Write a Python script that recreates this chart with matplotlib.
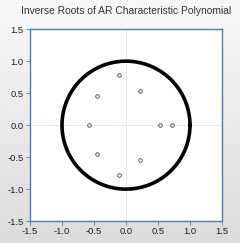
import matplotlib
matplotlib.use("Agg")
import matplotlib.pyplot as plt
import numpy as np

# inverse roots
root_re = [-0.11, -0.11, -0.46, -0.46, 0.22, 0.22, -0.58, 0.53, 0.72]
root_im = [0.78, -0.78, 0.45, -0.45, 0.54, -0.54, 0.0, 0.0, 0.0]
ticks = [-1.5, -1.0, -0.5, 0.0, 0.5, 1.0, 1.5]

plt.rcParams["font.family"] = ["Liberation Sans", "DejaVu Sans"]

fig = plt.figure(figsize=(2.4, 2.43), dpi=100)

# light gray gradient background
bg = fig.add_axes([0, 0, 1, 1], zorder=-10)
grad = np.linspace(0.97, 0.86, 256).reshape(-1, 1)
bg.imshow(grad, cmap="gray", vmin=0, vmax=1, aspect="auto", extent=[0, 1, 0, 1])
bg.axis("off")

ax = fig.add_axes([0.125, 0.09, 0.8, 0.79])
ax.set_facecolor("white")

t = np.linspace(0, 2 * np.pi, 400)
ax.plot(np.cos(t), np.sin(t), color="black", lw=2.6, zorder=3)
ax.plot(root_re, root_im, "o", ms=2.6, mfc="none", mec="#444444", mew=0.6, zorder=4)

ax.axhline(0, color="#cccccc", lw=0.6, ls=(0, (1, 1)), zorder=1)
ax.axvline(0, color="#cccccc", lw=0.6, ls=(0, (1, 1)), zorder=1)

ax.set_xlim(-1.5, 1.5)
ax.set_ylim(-1.5, 1.5)
ax.set_xticks(ticks)
ax.set_yticks(ticks)
ax.set_xticklabels(["%.1f" % v for v in ticks])
ax.set_yticklabels(["%.1f" % v for v in ticks])
ax.tick_params(labelsize=6.8, length=3, width=0.6, color="#4a7ebb", pad=1.5, labelcolor="#222222")
for s in ax.spines.values():
    s.set_color("#4a7ebb")
    s.set_linewidth(1.0)

fig.text(0.525, 0.955, "Inverse Roots of AR Characteristic Polynomial", ha="center", va="center",
         fontsize=7.4, color="#333333")

fig.savefig("out.png", dpi=100)
